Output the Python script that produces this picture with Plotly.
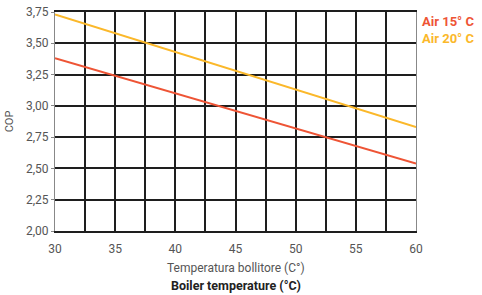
import plotly.graph_objects as go

temps = [30, 60]
air15 = [3.38, 2.54]
air20 = [3.73, 2.83]
x_ticks = [30, 35, 40, 45, 50, 55, 60]
y_ticks = [2.00, 2.25, 2.50, 2.75, 3.00, 3.25, 3.50, 3.75]
y_labels = ["2,00", "2,25", "2,50", "2,75", "3,00", "3,25", "3,50", "3,75"]

RED = "#EE5435"
YEL = "#FBB82A"
GRID = "#1e1e1e"
FONT = "Roboto"

fig = go.Figure()
fig.add_trace(go.Scatter(x=temps, y=air15, mode="lines", line=dict(color=RED, width=2), name="Air 15° C"))
fig.add_trace(go.Scatter(x=temps, y=air20, mode="lines", line=dict(color=YEL, width=2), name="Air 20° C"))

fig.update_layout(
    width=482, height=295,
    margin=dict(l=55, r=66, t=12, b=64, autoexpand=False),
    paper_bgcolor="white", plot_bgcolor="white",
    showlegend=False,
    font=dict(family=FONT, size=11, color="#555"),
)
fig.update_xaxes(
    automargin=False,
    range=[30, 60], tickvals=x_ticks, ticktext=[str(v) for v in x_ticks],
    showgrid=True, gridcolor=GRID, gridwidth=2,
    minor=dict(dtick=2.5, tick0=30, showgrid=True, gridcolor=GRID, gridwidth=2),
    showline=True, linecolor=GRID, linewidth=2, mirror=True,
    ticks="outside", ticklen=6, tickcolor="rgba(0,0,0,0)",
    tickfont=dict(size=12, color="#555"),
    zeroline=False,
)
fig.update_yaxes(
    automargin=False,
    range=[2.0, 3.75], tickvals=y_ticks, ticktext=y_labels,
    showgrid=True, gridcolor=GRID, gridwidth=2,
    showline=True, linecolor="#888", linewidth=1, mirror=True,
    ticks="outside", ticklen=3, tickcolor="#888",
    tickfont=dict(size=12, color="#555"),
    title=dict(text="COP", font=dict(size=11, color="#555"), standoff=10),
    zeroline=False,
)
# x-axis title, two lines
fig.add_annotation(x=0.5, y=0, xref="paper", yref="paper", text="Temperatura bollitore (C°)",
                   showarrow=False, xanchor="center", yanchor="middle", yshift=-37,
                   font=dict(family=FONT, size=12, color="#555"))
fig.add_annotation(x=0.5, y=0, xref="paper", yref="paper", text="<b>Boiler temperature (°C)</b>",
                   showarrow=False, xanchor="center", yanchor="middle", yshift=-54,
                   font=dict(family=FONT, size=12.5, color="#222"))
# series labels
fig.add_annotation(x=1.0, y=3.75, xref="paper", yref="y", text="<b>Air 15° C</b>",
                   showarrow=False, xanchor="left", yanchor="top", xshift=4, yshift=0,
                   font=dict(family=FONT, size=13, color=RED))
fig.add_annotation(x=1.0, y=3.75, xref="paper", yref="y", text="<b>Air 20° C</b>",
                   showarrow=False, xanchor="left", yanchor="top", xshift=4, yshift=-17,
                   font=dict(family=FONT, size=13, color=YEL))

fig.write_html("out.html", config={"displayModeBar": False},
               post_script="document.body.style.margin='0';")
